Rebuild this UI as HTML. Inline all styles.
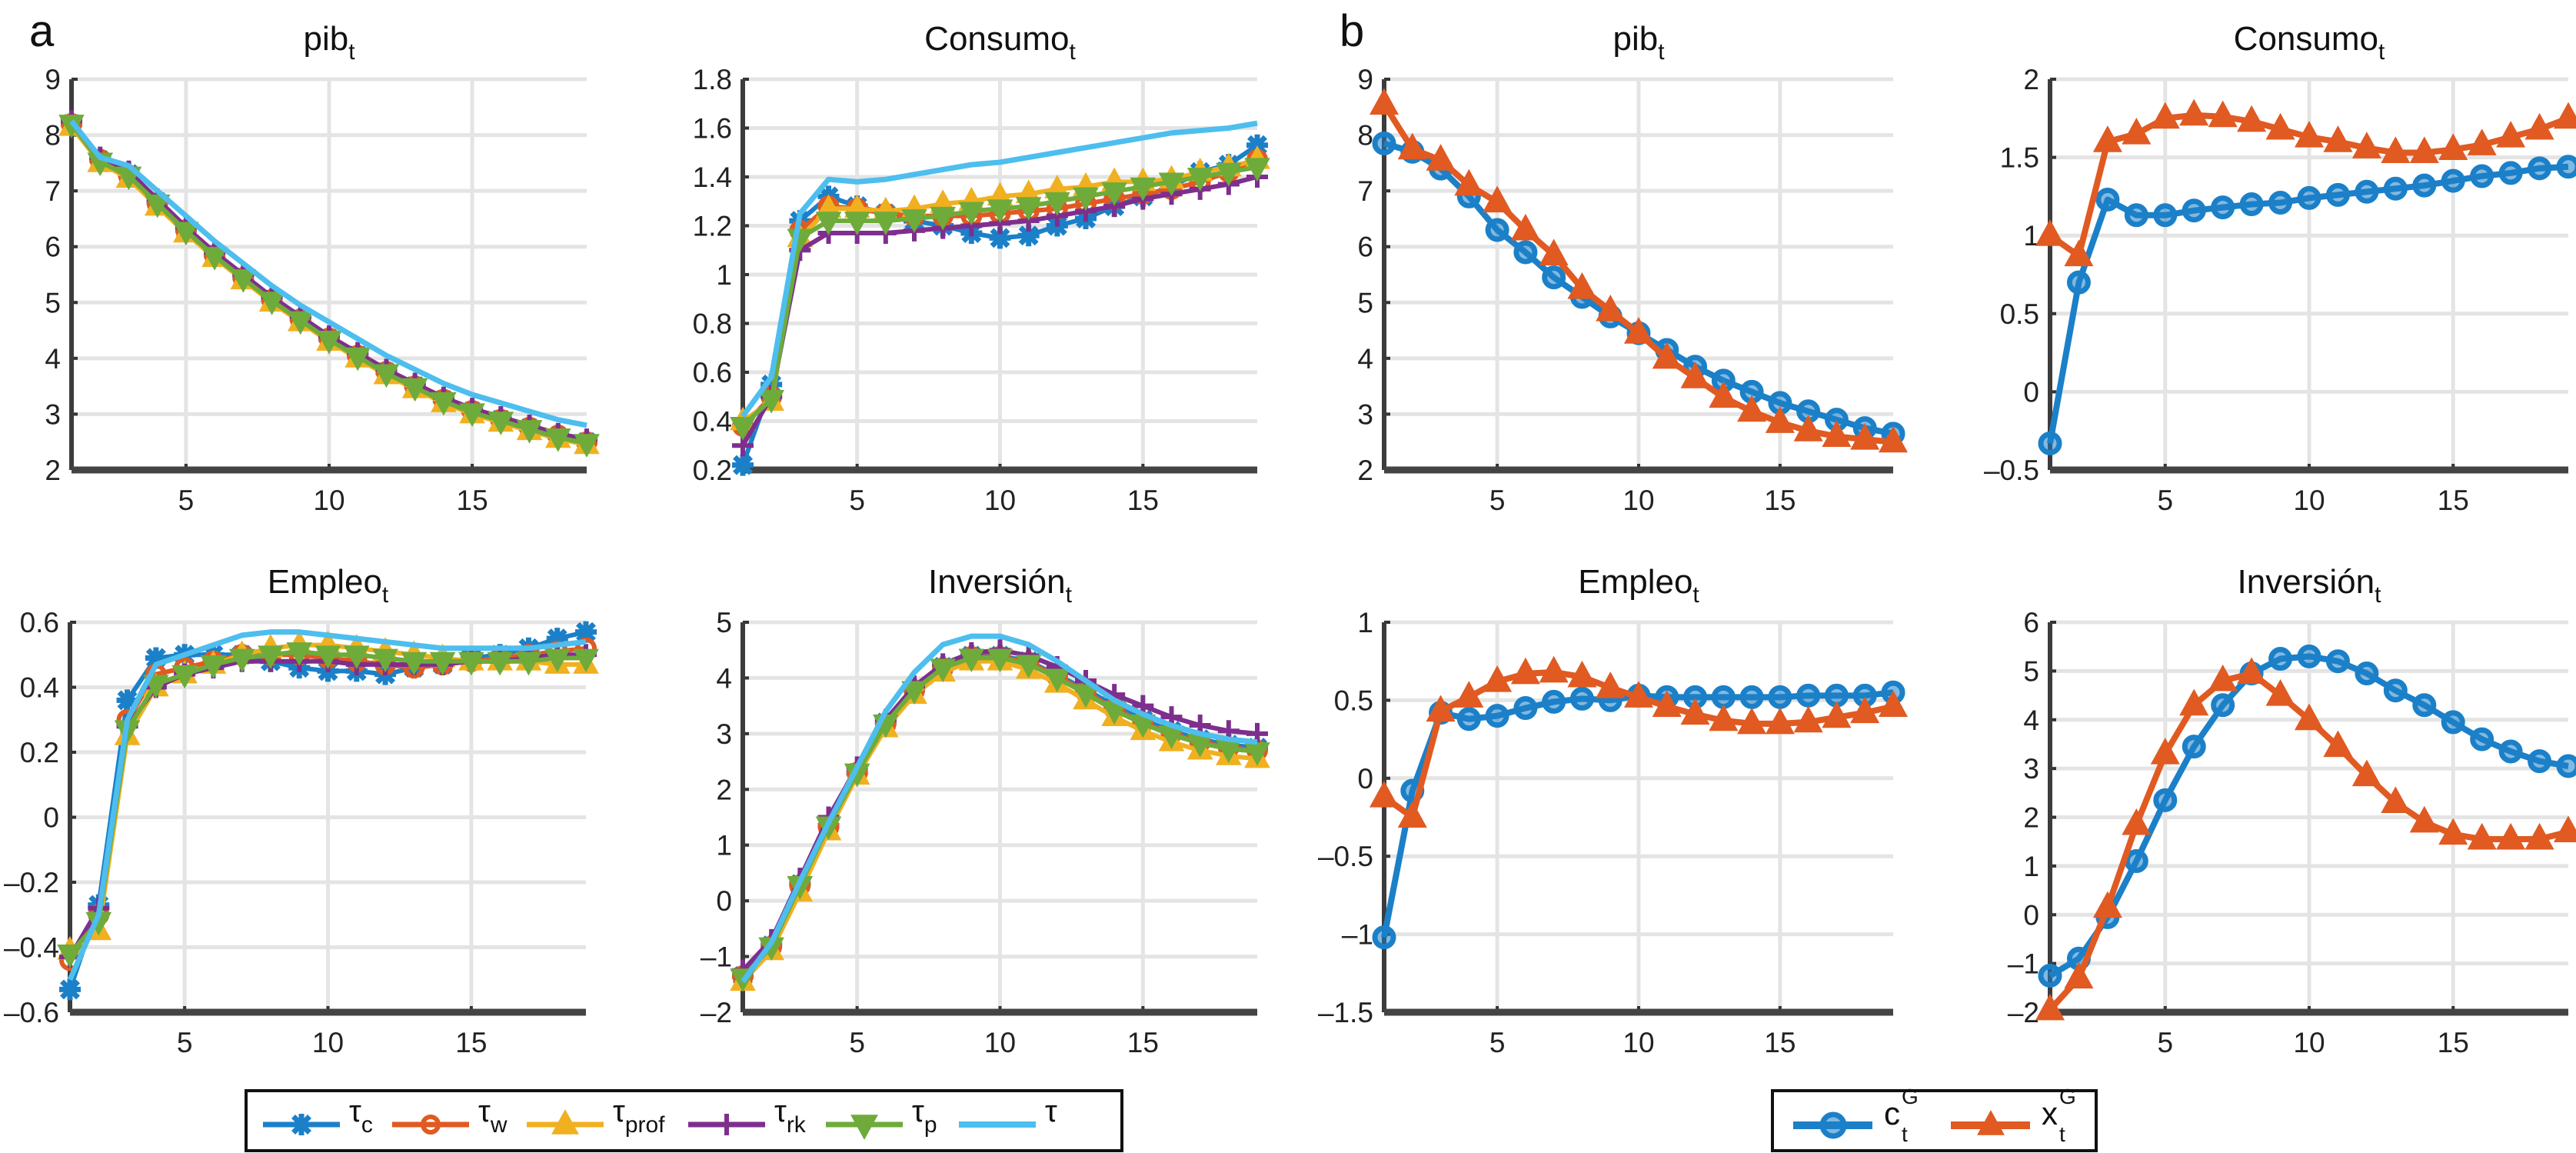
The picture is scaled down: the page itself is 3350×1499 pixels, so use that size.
<!DOCTYPE html>
<html><head><meta charset="utf-8">
<style>
html,body{margin:0;padding:0;background:#fff;}
svg{display:block;font-family:"Liberation Sans",sans-serif;}
</style></head>
<body>
<svg id="fig" width="3350" height="1499" viewBox="0 0 3350 1499" xmlns="http://www.w3.org/2000/svg">
<rect x="0" y="0" width="3350" height="1499" fill="#fff"/>
<text x="38" y="60" font-size="58" fill="#111">a</text>
<text x="1742" y="60" font-size="58" fill="#111">b</text>
<g id="panels"></g>
<g>
<rect x="320" y="1418" width="1139" height="78" fill="#fff" stroke="#111" stroke-width="4"/>
</g>
<g>
<rect x="2305" y="1418" width="421" height="78" fill="#fff" stroke="#111" stroke-width="4"/>
</g>
<g id="legend"></g>
</svg>
<script>
const xs = [1,2,3,4,5,6,7,8,9,10,11,12,13,14,15,16,17,18,19];
const xTicks = [5,10,15];
// Panel a series
const pibA_c    = [8.2,7.55,7.3,6.8,6.3,5.85,5.45,5.05,4.7,4.35,4.05,3.75,3.5,3.25,3.05,2.9,2.75,2.6,2.5];
const pibA_w    = [8.2,7.56,7.28,6.78,6.3,5.85,5.44,5.05,4.7,4.36,4.05,3.76,3.5,3.26,3.06,2.9,2.76,2.62,2.5];
const pibA_prof = [8.15,7.5,7.22,6.72,6.24,5.8,5.4,5.0,4.65,4.3,4.0,3.7,3.45,3.2,3.0,2.85,2.7,2.56,2.45];
const pibA_rk   = [8.25,7.6,7.35,6.85,6.35,5.9,5.5,5.1,4.75,4.4,4.1,3.8,3.55,3.3,3.1,2.95,2.8,2.65,2.55];
const pibA_p    = [8.2,7.52,7.27,6.77,6.28,5.83,5.43,5.03,4.68,4.33,4.03,3.73,3.48,3.23,3.03,2.88,2.73,2.58,2.48];
const pibA_tau  = [8.25,7.6,7.45,7.0,6.55,6.1,5.7,5.3,4.95,4.65,4.35,4.05,3.8,3.55,3.35,3.2,3.05,2.9,2.8];
const conA_c    = [0.22,0.55,1.22,1.32,1.28,1.25,1.22,1.2,1.17,1.15,1.16,1.2,1.23,1.28,1.32,1.36,1.42,1.45,1.53];
const conA_w    = [0.38,0.5,1.18,1.28,1.27,1.25,1.24,1.24,1.24,1.25,1.26,1.27,1.29,1.31,1.33,1.35,1.38,1.42,1.47];
const conA_prof = [0.4,0.48,1.15,1.27,1.27,1.26,1.27,1.29,1.3,1.32,1.33,1.35,1.36,1.38,1.38,1.39,1.42,1.44,1.47];
const conA_rk   = [0.3,0.5,1.1,1.17,1.17,1.17,1.18,1.19,1.2,1.21,1.22,1.24,1.26,1.28,1.31,1.33,1.35,1.37,1.4];
const conA_p    = [0.38,0.49,1.15,1.22,1.22,1.22,1.23,1.24,1.26,1.27,1.28,1.3,1.32,1.34,1.36,1.38,1.4,1.42,1.44];
const conA_tau  = [0.42,0.58,1.25,1.39,1.38,1.39,1.41,1.43,1.45,1.46,1.48,1.5,1.52,1.54,1.56,1.58,1.59,1.6,1.62];
const empA_c    = [-0.53,-0.27,0.36,0.49,0.5,0.5,0.5,0.48,0.46,0.45,0.45,0.44,0.46,0.47,0.49,0.5,0.52,0.55,0.57];
const empA_w    = [-0.44,-0.3,0.3,0.44,0.46,0.48,0.5,0.5,0.5,0.49,0.48,0.47,0.46,0.47,0.48,0.49,0.5,0.51,0.52];
const empA_prof = [-0.41,-0.35,0.25,0.4,0.44,0.47,0.5,0.52,0.53,0.53,0.52,0.51,0.5,0.49,0.48,0.48,0.48,0.47,0.47];
const empA_rk   = [-0.43,-0.28,0.28,0.4,0.44,0.46,0.48,0.48,0.48,0.48,0.47,0.47,0.47,0.47,0.48,0.48,0.49,0.5,0.5];
const empA_p    = [-0.42,-0.32,0.27,0.41,0.44,0.47,0.49,0.5,0.51,0.5,0.5,0.49,0.48,0.48,0.48,0.48,0.48,0.49,0.49];
const empA_tau  = [-0.5,-0.3,0.3,0.47,0.5,0.53,0.56,0.57,0.57,0.56,0.55,0.54,0.53,0.52,0.52,0.52,0.52,0.53,0.54];
const invA_c    = [-1.35,-0.8,0.3,1.35,2.3,3.2,3.8,4.2,4.4,4.4,4.3,4.05,3.8,3.5,3.25,3.05,2.9,2.8,2.75];
const invA_w    = [-1.35,-0.82,0.28,1.33,2.3,3.18,3.78,4.18,4.38,4.38,4.28,4.03,3.75,3.45,3.2,3.0,2.85,2.75,2.7];
const invA_prof = [-1.45,-0.9,0.15,1.25,2.25,3.1,3.7,4.1,4.3,4.3,4.15,3.9,3.6,3.3,3.05,2.85,2.7,2.6,2.55];
const invA_rk   = [-1.25,-0.7,0.4,1.5,2.4,3.25,3.85,4.25,4.45,4.5,4.4,4.2,3.95,3.7,3.5,3.3,3.15,3.05,3.0];
const invA_p    = [-1.38,-0.82,0.28,1.35,2.3,3.18,3.78,4.18,4.36,4.36,4.25,4.0,3.72,3.42,3.18,2.98,2.83,2.73,2.68];
const invA_tau  = [-1.45,-0.75,0.35,1.4,2.4,3.4,4.1,4.6,4.75,4.75,4.6,4.3,3.95,3.6,3.35,3.15,3.0,2.9,2.85];
// Panel b series
const pibB_c = [7.85,7.7,7.4,6.9,6.3,5.9,5.45,5.1,4.75,4.45,4.15,3.85,3.6,3.4,3.2,3.05,2.9,2.75,2.65];
const pibB_x = [8.55,7.75,7.55,7.1,6.8,6.3,5.85,5.25,4.85,4.45,4.0,3.65,3.3,3.05,2.85,2.7,2.6,2.55,2.5];
const conB_c = [-0.33,0.7,1.23,1.13,1.13,1.16,1.18,1.2,1.21,1.24,1.26,1.28,1.3,1.32,1.35,1.38,1.4,1.43,1.44];
const conB_x = [1.0,0.87,1.6,1.65,1.75,1.77,1.76,1.73,1.68,1.63,1.6,1.56,1.53,1.53,1.55,1.58,1.63,1.68,1.75];
const empB_c = [-1.02,-0.08,0.42,0.38,0.4,0.45,0.49,0.51,0.5,0.53,0.52,0.52,0.52,0.52,0.52,0.53,0.53,0.53,0.55];
const empB_x = [-0.12,-0.25,0.43,0.52,0.62,0.67,0.68,0.65,0.58,0.52,0.46,0.41,0.37,0.35,0.35,0.36,0.39,0.42,0.46];
const invB_c = [-1.25,-0.9,-0.05,1.1,2.35,3.45,4.3,4.95,5.25,5.3,5.2,4.95,4.6,4.3,3.95,3.6,3.35,3.15,3.05];
const invB_x = [-1.95,-1.3,0.15,1.85,3.3,4.3,4.8,4.95,4.5,4.0,3.45,2.85,2.3,1.9,1.65,1.55,1.55,1.55,1.7];
// Ticks
const ticksPib = [2,3,4,5,6,7,8,9];
const labelsPib = ["2","3","4","5","6","7","8","9"];
const ticksConA = [0.2,0.4,0.6,0.8,1,1.2,1.4,1.6,1.8];
const labelsConA = ["0.2","0.4","0.6","0.8","1","1.2","1.4","1.6","1.8"];
const ticksEmpA = [-0.6,-0.4,-0.2,0,0.2,0.4,0.6];
const labelsEmpA = ["\u20130.6","\u20130.4","\u20130.2","0","0.2","0.4","0.6"];
const ticksInvA = [-2,-1,0,1,2,3,4,5];
const labelsInvA = ["\u20132","\u20131","0","1","2","3","4","5"];
const ticksConB = [-0.5,0,0.5,1,1.5,2];
const labelsConB = ["\u20130.5","0","0.5","1","1.5","2"];
const ticksEmpB = [-1.5,-1,-0.5,0,0.5,1];
const labelsEmpB = ["\u20131.5","\u20131","\u20130.5","0","0.5","1"];
const ticksInvB = [-2,-1,0,1,2,3,4,5,6];
const labelsInvB = ["\u20132","\u20131","0","1","2","3","4","5","6"];

const NS = "http://www.w3.org/2000/svg";
const COL = {c:"#1b80c8", w:"#e05a22", prof:"#f0b020", rk:"#7E2F8E", p:"#6eab3a", tau:"#4DBEEE"};
const root = document.getElementById("panels");
function mk(tag, attrs, parent){const e=document.createElementNS(NS,tag);for(const k in attrs)e.setAttribute(k,attrs[k]);if(parent)parent.appendChild(e);return e;}

function marker(g, type, cx, cy, color, s){
  let m;
  if(type==="circle"){m=mk("circle",{cx:cx,cy:cy,r:s,fill:"none",stroke:color,"stroke-width":6},g);}
  else if(type==="tri"){m=mk("polygon",{points:`${cx},${cy-s*1.2} ${cx-s*1.1},${cy+s*0.8} ${cx+s*1.1},${cy+s*0.8}`,fill:color,stroke:color,"stroke-width":3},g);}
  else if(type==="tridown"){m=mk("polygon",{points:`${cx},${cy+s*1.2} ${cx-s*1.1},${cy-s*0.8} ${cx+s*1.1},${cy-s*0.8}`,fill:color,stroke:color,"stroke-width":3},g);}
  else if(type==="plus"){m=mk("path",{d:`M${cx-s} ${cy}H${cx+s}M${cx} ${cy-s}V${cy+s}`,stroke:color,"stroke-width":6},g);}
  else if(type==="star"){const d=s*0.75;m=mk("path",{d:`M${cx-s} ${cy}H${cx+s}M${cx} ${cy-s}V${cy+s}M${cx-d} ${cy-d}L${cx+d} ${cy+d}M${cx-d} ${cy+d}L${cx+d} ${cy-d}`,stroke:color,"stroke-width":7},g);}
  else if(type==="ocircle"){m=mk("circle",{cx:cx,cy:cy,r:s,fill:color,"fill-opacity":0.55,stroke:color,"stroke-width":7},g);}
  if(m){
    
    
  }
}

function panel(cfg){
  const g = mk("g",{},root);
  
  
  const X = v => cfg.x0 + (v-1)/(18)*(cfg.x1-cfg.x0);
  const Y = v => cfg.y1 - (v-cfg.ymin)/(cfg.ymax-cfg.ymin)*(cfg.y1-cfg.y0);
  cfg.ticks.forEach((t,i)=>{
    const gl = mk("line",{x1:cfg.x0,x2:cfg.x1,y1:Y(t),y2:Y(t),stroke:"#e4e4e4","stroke-width":5},g);
    
    
    const tl = mk("text",{x:cfg.x0-14,y:Y(t)+13,"font-size":37,"text-anchor":"end",fill:"#222"},g);
    tl.textContent = cfg.labels[i];
    
    
    mk("line",{x1:cfg.x0,x2:cfg.x0+8,y1:Y(t),y2:Y(t),stroke:"#333","stroke-width":4},g);
  });
  xTicks.forEach(t=>{
    const gl = mk("line",{x1:X(t),x2:X(t),y1:cfg.y0,y2:cfg.y1,stroke:"#e4e4e4","stroke-width":5},g);
    
    
    const tl = mk("text",{x:X(t),y:cfg.y1+52,"font-size":37,"text-anchor":"middle",fill:"#222"},g);
    tl.textContent = String(t);
    
    
    mk("line",{x1:X(t),x2:X(t),y1:cfg.y1,y2:cfg.y1-8,stroke:"#333","stroke-width":4},g);
  });
  const ax = mk("line",{x1:cfg.x0,x2:cfg.x0,y1:cfg.y0,y2:cfg.y1,stroke:"#3c3c3c","stroke-width":6},g);
  
  
  const bx = mk("line",{x1:cfg.x0,x2:cfg.x1,y1:cfg.y1,y2:cfg.y1,stroke:"#444","stroke-width":9},g);
  
  
  const tt = mk("text",{x:(cfg.x0+cfg.x1)/2,y:cfg.y0-38,"font-size":44,"text-anchor":"middle",fill:"#111"},g);
  
  
  const t1 = mk("tspan",{},tt); t1.textContent = cfg.title;
  const t2 = mk("tspan",{dy:12,"font-size":30},tt); t2.textContent = "t";
  cfg.series.forEach(s=>{
    const sg = mk("g",{},g);
    
    
    const pts = s.data.map((v,i)=>X(xs[i])+","+Y(v)).join(" ");
    const pl = mk("polyline",{points:pts,fill:"none",stroke:s.color,"stroke-width":s.lw||6,"stroke-linejoin":"round"},sg);
    
    
    if(s.marker) s.data.forEach((v,i)=>marker(sg,s.marker,X(xs[i]),Y(v),s.color,s.ms||12));
  });
}

function seriesA(c,w,prof,rk,p,tau){
  return [
    {name:"series-tau-c",data:c,color:COL.c,marker:"star",ms:14},
    {name:"series-tau-w",data:w,color:COL.w,marker:"circle",ms:11},
    {name:"series-tau-prof",data:prof,color:COL.prof,marker:"tri",ms:13},
    {name:"series-tau-rk",data:rk,color:COL.rk,marker:"plus",ms:14},
    {name:"series-tau-p",data:p,color:COL.p,marker:"tridown",ms:13},
    {name:"series-tau",data:tau,color:COL.tau,lw:7}
  ];
}
function seriesB(c,x){
  return [
    {name:"series-c-g",data:c,color:COL.c,marker:"ocircle",ms:12,lw:8},
    {name:"series-x-g",data:x,color:COL.w,marker:"tri",ms:15,lw:8}
  ];
}
const TOP=[103,611], BOT=[809,1316];
panel({name:"panel-a-pib",x0:93,x1:763,y0:TOP[0],y1:TOP[1],ymin:2,ymax:9,ticks:ticksPib,labels:labelsPib,title:"pib",series:seriesA(pibA_c,pibA_w,pibA_prof,pibA_rk,pibA_p,pibA_tau)});
panel({name:"panel-a-consumo",x0:966,x1:1635,y0:TOP[0],y1:TOP[1],ymin:0.2,ymax:1.8,ticks:ticksConA,labels:labelsConA,title:"Consumo",series:seriesA(conA_c,conA_w,conA_prof,conA_rk,conA_p,conA_tau)});
panel({name:"panel-a-empleo",x0:91,x1:762,y0:BOT[0],y1:BOT[1],ymin:-0.6,ymax:0.6,ticks:ticksEmpA,labels:labelsEmpA,title:"Empleo",series:seriesA(empA_c,empA_w,empA_prof,empA_rk,empA_p,empA_tau)});
panel({name:"panel-a-inversion",x0:966,x1:1635,y0:BOT[0],y1:BOT[1],ymin:-2,ymax:5,ticks:ticksInvA,labels:labelsInvA,title:"Inversión",series:seriesA(invA_c,invA_w,invA_prof,invA_rk,invA_p,invA_tau)});
panel({name:"panel-b-pib",x0:1800,x1:2462,y0:TOP[0],y1:TOP[1],ymin:2,ymax:9,ticks:ticksPib,labels:labelsPib,title:"pib",series:seriesB(pibB_c,pibB_x)});
panel({name:"panel-b-consumo",x0:2666,x1:3340,y0:TOP[0],y1:TOP[1],ymin:-0.5,ymax:2,ticks:ticksConB,labels:labelsConB,title:"Consumo",series:seriesB(conB_c,conB_x)});
panel({name:"panel-b-empleo",x0:1800,x1:2462,y0:BOT[0],y1:BOT[1],ymin:-1.5,ymax:1,ticks:ticksEmpB,labels:labelsEmpB,title:"Empleo",series:seriesB(empB_c,empB_x)});
panel({name:"panel-b-inversion",x0:2666,x1:3340,y0:BOT[0],y1:BOT[1],ymin:-2,ymax:6,ticks:ticksInvB,labels:labelsInvB,title:"Inversión",series:seriesB(invB_c,invB_x)});

const lg = document.getElementById("legend");
const legA = [["c",342,"star","c"],["w",510,"circle","w"],["prof",685,"tri","prof"],["rk",895,"plus","rk"],["p",1074,"tridown","p"],["tau",1247,null,""]];
legA.forEach(e=>{
  const g = mk("g",{},lg);
  
  
  const x=e[1], y=1462;
  mk("line",{x1:x,x2:x+100,y1:y,y2:y,stroke:COL[e[0]],"stroke-width":e[2]?7:8},g);
  if(e[2]) marker(g,e[2],x+50,y,COL[e[0]],e[2]==="circle"?10:14);
  const t = mk("text",{x:x+112,y:1458,"font-size":40,fill:"#111"},g);
  const a = mk("tspan",{},t); a.textContent="\u03c4";
  if(e[3]){const b=mk("tspan",{dy:14,"font-size":30},t); b.textContent=e[3];}
});
const legB = [["c",2332,"ocircle","c"],["w",2537,"tri","x"]];
legB.forEach(e=>{
  const g = mk("g",{},lg);
  
  
  const x=e[1], y=1463;
  mk("line",{x1:x,x2:x+103,y1:y,y2:y,stroke:COL[e[0]],"stroke-width":10},g);
  marker(g,e[2],x+52,y,COL[e[0]],14);
  const t = mk("text",{x:x+118,y:1462,"font-size":42,fill:"#111"},g);
  t.textContent = e[3];
  const sup = mk("text",{x:x+141,y:1435,"font-size":28,fill:"#111"},g); sup.textContent="G";
  const sub = mk("text",{x:x+141,y:1484,"font-size":28,fill:"#111"},g); sub.textContent="t";
});
</script>
</body></html>
